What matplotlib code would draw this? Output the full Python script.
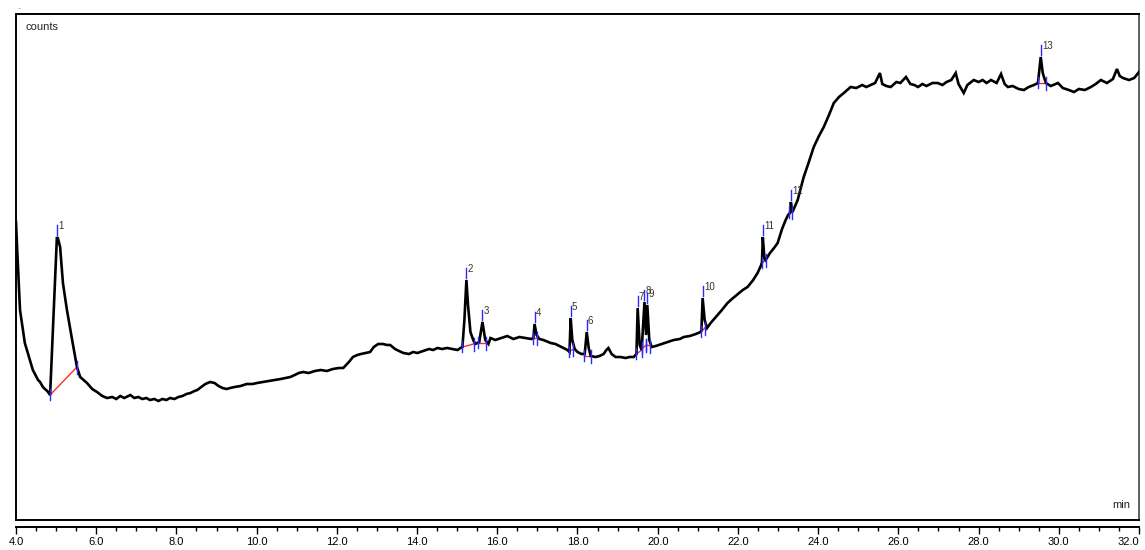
import matplotlib
matplotlib.use("Agg")
import matplotlib.pyplot as plt
from matplotlib.ticker import MultipleLocator, FixedLocator

# ---- trace (retention time in min, detector response in counts)
time_min = [
    4.00, 4.03, 4.10, 4.22, 4.42, 4.55, 4.60, 4.67, 4.72, 4.78, 4.85,
    5.02, 5.05, 5.10, 5.17, 5.27, 5.40, 5.52, 5.60, 5.77, 5.90, 6.02, 6.15, 6.27,
    6.40, 6.50, 6.60, 6.70, 6.85, 6.95, 7.05, 7.15, 7.25, 7.34, 7.45, 7.55, 7.65,
    7.75, 7.84, 7.95, 8.05, 8.15, 8.25, 8.35, 8.45, 8.52, 8.62, 8.72, 8.84, 8.95,
    9.05, 9.15, 9.25, 9.34, 9.45, 9.60, 9.75, 9.90, 10.01, 10.15, 10.30, 10.45,
    10.60, 10.72, 10.84, 10.95, 11.05, 11.16, 11.30, 11.45, 11.60, 11.75, 11.90,
    12.05, 12.16, 12.30, 12.40, 12.51, 12.60, 12.72, 12.83, 12.92, 13.03, 13.15,
    13.25, 13.33, 13.45, 13.55, 13.66, 13.80, 13.90, 14.01, 14.15, 14.30, 14.40,
    14.51, 14.62, 14.75, 14.88, 15.01, 15.08, 15.13,
    15.18, 15.23, 15.27, 15.33, 15.40, 15.45, 15.50, 15.55, 15.63, 15.70, 15.78,
    15.83, 15.95, 16.10, 16.25, 16.40, 16.55, 16.70, 16.85, 16.90, 16.93, 16.98,
    17.05, 17.15, 17.33, 17.45, 17.55, 17.65, 17.75, 17.80, 17.83, 17.87, 17.93,
    18.00, 18.10, 18.18, 18.23, 18.28, 18.33, 18.45, 18.55, 18.65, 18.72, 18.77,
    18.85, 18.95, 19.07, 19.20, 19.30, 19.40, 19.47, 19.50, 19.55, 19.60, 19.67,
    19.71, 19.74, 19.79, 19.85, 19.95, 20.10, 20.25, 20.40, 20.55, 20.65, 20.80,
    20.95, 21.07, 21.09, 21.12, 21.17, 21.23, 21.32, 21.45, 21.60, 21.74, 21.85,
    22.00, 22.12, 22.24, 22.38, 22.49, 22.58, 22.60, 22.62, 22.66, 22.69, 22.80,
    22.90, 22.99, 23.10, 23.19, 23.25, 23.30, 23.32, 23.36, 23.49, 23.64, 23.76,
    23.89, 24.02, 24.14, 24.27, 24.39, 24.52, 24.64, 24.81, 24.95, 25.10, 25.20,
    25.31, 25.42, 25.54, 25.60, 25.70, 25.81, 25.95, 26.05, 26.19, 26.30, 26.40,
    26.49, 26.60, 26.70, 26.85, 26.98, 27.10, 27.20, 27.32, 27.43, 27.50, 27.63,
    27.72, 27.88, 28.00, 28.10, 28.20, 28.31, 28.45, 28.56, 28.65, 28.73, 28.85,
    29.00, 29.13, 29.25, 29.38, 29.48, 29.55, 29.60, 29.63, 29.68, 29.80, 29.98,
    30.10, 30.25, 30.38, 30.50, 30.65, 30.80, 30.92, 31.05, 31.20, 31.35, 31.45,
    31.52, 31.60, 31.75, 31.88, 32.00,
]
counts = [
    298, 270, 210, 177, 150, 140, 138, 133, 131, 129, 125,
    283, 281, 273, 237, 210, 180, 153, 143, 137, 131, 128, 124, 122,
    123, 121, 124, 122, 125, 122, 123, 121, 122, 120, 121, 119, 121,
    120, 122, 121, 123, 124, 126, 127, 129, 130, 133, 136, 138, 137,
    134, 132, 131, 132, 133, 134, 136, 136, 137, 138, 139, 140,
    141, 142, 143, 145, 147, 148, 147, 149, 150, 149, 151,
    152, 152, 158, 163, 165, 166, 167, 168, 173, 176, 176,
    175, 175, 171, 169, 167, 166, 168, 167, 169, 171, 170,
    172, 171, 172, 171, 170, 172, 173,
    200, 240, 215, 188, 180, 176, 177, 178, 198, 180, 176,
    182, 180, 182, 184, 181, 183, 182, 181, 182, 196, 185,
    181, 180, 177, 176, 174, 172, 170, 168, 202, 180, 171,
    168, 166, 166, 188, 172, 164, 163, 164, 166, 170, 172,
    166, 163, 163, 162, 163, 163, 166, 212, 175, 170, 218,
    185, 215, 180, 173, 174, 176, 178, 180, 181, 183, 184,
    186, 188, 190, 222, 200, 192, 197, 203, 210, 217, 221,
    226, 230, 233, 240, 247, 255, 258, 283, 262, 260, 267,
    272, 277, 291, 300, 305, 307, 318, 308, 320, 343, 357,
    373, 384, 393, 405, 417, 423, 427, 433, 432, 435, 433,
    435, 437, 447, 436, 434, 433, 438, 437, 443, 436, 435,
    433, 436, 434, 437, 437, 435, 438, 440, 447, 436, 427,
    435, 440, 438, 440, 437, 440, 437, 446, 436, 433, 434,
    431, 430, 433, 435, 437, 463, 447, 443, 437, 434, 437,
    432, 430, 428, 431, 430, 433, 436, 440, 437, 441, 451,
    444, 442, 440, 442, 448,
]

# ---- integrated peaks
peak_ids = ["1", "2", "3", "4", "5", "6", "7", "8", "9", "10", "11", "12", "13"]
apex_t = [5.02, 15.23, 15.63, 16.93, 17.83, 18.23, 19.50, 19.67, 19.74, 21.12, 22.62, 23.32, 29.55]
apex_c = [283, 240, 198, 196, 202, 188, 212, 218, 215, 222, 283, 318, 463]
start_t = [4.85, 15.13, 15.53, 16.90, 17.78, 18.15, 19.47, 19.62, 19.72, 21.09, 22.60, 23.28, 29.48]
start_c = [125, 173, 177, 181, 168, 164, 166, 172, 175, 188, 257, 307, 437]
end_t = [5.52, 15.41, 15.71, 17.00, 17.90, 18.33, 19.60, 19.72, 19.82, 21.17, 22.69, 23.36, 29.68]
end_c = [153, 176, 177, 182, 171, 164, 170, 175, 174, 192, 260, 308, 437]

x_major = [4.0, 6.0, 8.0, 10.0, 12.0, 14.0, 16.0, 18.0, 20.0, 22.0, 24.0, 26.0, 28.0, 30.0, 32.0]
x_labels = ["4.0", "6.0", "8.0", "10.0", "12.0", "14.0", "16.0", "18.0", "20.0",
            "22.0", "24.0", "26.0", "28.0", "30.0", "32.0"]

W, H = 1145, 550
fig = plt.figure(figsize=(W / 100, H / 100), dpi=100)
L, R, T, B = 16, 1139, 14, 520
ax = fig.add_axes([L / W, 1 - B / H, (R - L) / W, (B - T) / H])
ax.set_xlim(4.0, 32.0)
ax.set_ylim(0, B - T)

narrow = ["Liberation Sans Narrow", "Liberation Sans", "DejaVu Sans"]

# baselines, markers
for i in range(len(peak_ids)):
    ax.plot([start_t[i], end_t[i]], [start_c[i], end_c[i]], color="#ff2a2a", lw=1.0, zorder=2)
    ax.plot([start_t[i], start_t[i]], [start_c[i] - 5, start_c[i] + 6], color="#2a2aff", lw=1.0, zorder=4)
    ax.plot([end_t[i], end_t[i]], [end_c[i] - 7, end_c[i] + 6], color="#2a2aff", lw=1.0, zorder=4)
    ax.plot([apex_t[i], apex_t[i]], [apex_c[i] + 2, apex_c[i] + 12], color="#2a2aff", lw=1.0, zorder=4)
    ax.text(apex_t[i] + 0.03, apex_c[i] + 6, peak_ids[i], fontsize=7, color="#3a3222",
            family=narrow, ha="left", va="bottom", zorder=5)

ax.plot(time_min, counts, color="black", lw=1.9, zorder=3, solid_joinstyle="miter")

ax.tick_params(bottom=False, labelbottom=False, left=False, labelleft=False)
for s in ["left", "top", "bottom"]:
    ax.spines[s].set_linewidth(1.4)
    ax.spines[s].set_color("black")
ax.spines["right"].set_linewidth(1.2)
ax.spines["right"].set_color("#444444")

ax.text(9 / (R - L), 1 - 13 / (B - T), "counts", transform=ax.transAxes, fontsize=8,
        family=narrow, ha="left", va="center", color="#222222")
ax.text(1 - 9 / (R - L), 15 / (B - T), "min", transform=ax.transAxes, fontsize=8,
        family=narrow, ha="right", va="center", color="#222222")

sec = ax.secondary_xaxis(-7 / (B - T))
sec.xaxis.set_major_locator(FixedLocator(x_major))
sec.set_xticklabels(x_labels)
sec.xaxis.set_minor_locator(MultipleLocator(0.5))
sec.tick_params(which="major", direction="out", length=5, width=1.0, pad=2, labelsize=8)
sec.tick_params(which="minor", direction="out", length=3, width=1.0)
sec.spines["bottom"].set_linewidth(1.4)
labs = sec.get_xticklabels()
for lab in labs:
    lab.set_family(narrow)
labs[-1].set_horizontalalignment("right")
labs[-1].set_x(32.0)

fig.text(18 / W, 1 - 8 / H, "\u2013", fontsize=5, color="#888888", ha="left", va="center")

fig.savefig("out.png", dpi=100)
